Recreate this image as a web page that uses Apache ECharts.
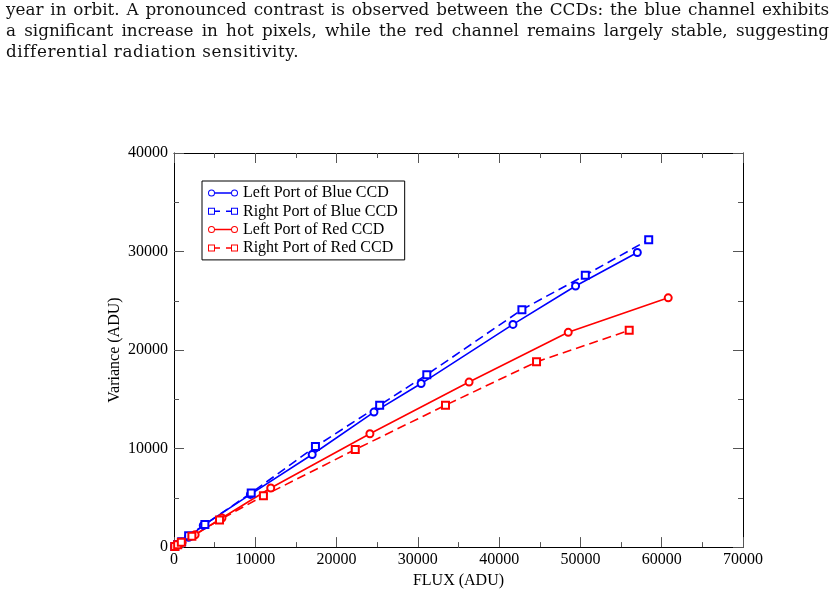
<!DOCTYPE html>
<html>
<head>
<meta charset="utf-8">
<script src="https://cdn.jsdelivr.net/npm/echarts@6/dist/echarts.min.js"></script>
<style>
  html, body { margin: 0; padding: 0; background: #fff; }
  #wrap { position: relative; width: 835px; height: 594px; overflow: hidden; }
  #chart { position: absolute; left: 0; top: 0; width: 835px; height: 594px; }
  #caption { position: absolute; left: 6px; top: -1px; width: 823px; z-index: 2;
    font-family: "DejaVu Serif", serif; font-size: 16.8px; line-height: 21px; color: #111; }
  #caption div { white-space: nowrap; }
</style>
</head>
<body>
<div id="wrap">
  <div id="chart"></div>
  <div id="caption">
    <div class="j">year in orbit. A pronounced contrast is observed between the CCDs: the blue channel exhibits</div>
    <div class="j">a significant increase in hot pixels, while the red channel remains largely stable, suggesting</div>
    <div style="letter-spacing:0.6px">differential radiation sensitivity.</div>
  </div>
</div>
<script>
// ---- data ----
const seriesNames = ['Left Port of Blue CCD', 'Right Port of Blue CCD', 'Left Port of Red CCD', 'Right Port of Red CCD'];

const blueLeftFlux = [100, 400, 900, 1800, 3600, 9400, 17000, 24600, 30400, 41700, 49400, 57000];
const blueLeftVar  = [60, 250, 500, 1000, 2200, 5350, 9400, 13700, 16600, 22600, 26500, 29900];

const blueRightFlux = [100, 450, 950, 1800, 3800, 9500, 17400, 25300, 31100, 42800, 50600, 58400];
const blueRightVar  = [70, 270, 540, 1150, 2300, 5500, 10200, 14400, 17500, 24100, 27600, 31200];

const redLeftFlux = [100, 450, 1000, 2600, 5900, 11900, 24100, 36300, 48500, 60800];
const redLeftVar  = [60, 230, 500, 1250, 2950, 6000, 11500, 16750, 21800, 25300];

const redRightFlux = [100, 450, 900, 2200, 5600, 11000, 22300, 33400, 44600, 56000];
const redRightVar  = [60, 230, 480, 1100, 2750, 5200, 9900, 14400, 18800, 22000];

const xTickLabels = ['0', '10000', '20000', '30000', '40000', '50000', '60000', '70000'];
const yTickLabels = ['0', '10000', '20000', '30000', '40000'];

// ---- caption justification ----
document.querySelectorAll('#caption .j').forEach(function (el) {
  const target = 823;
  const text = el.textContent;
  const spaces = (text.match(/ /g) || []).length;
  const span = document.createElement('span');
  span.textContent = text;
  el.textContent = '';
  el.appendChild(span);
  const w = span.getBoundingClientRect().width;
  el.style.wordSpacing = ((target - w) / spaces) + 'px';
});

function pairs(xs, ys) { return xs.map(function (x, i) { return [x, ys[i]]; }); }

const ringPath = 'path://M0,3.5 A3.5,3.5 0 1 1 7,3.5 A3.5,3.5 0 1 1 0,3.5 Z M1,3.5 A2.5,2.5 0 1 0 6,3.5 A2.5,2.5 0 1 0 1,3.5 Z ' +
  'M23,3.5 A3.5,3.5 0 1 1 30,3.5 A3.5,3.5 0 1 1 23,3.5 Z M24,3.5 A2.5,2.5 0 1 0 29,3.5 A2.5,2.5 0 1 0 24,3.5 Z ' +
  'M7,2.75 L23,2.75 L23,4.25 L7,4.25 Z';
const squarePath = 'path://M0,0 L7,0 L7,7 L0,7 Z M1,1 L1,6 L6,6 L6,1 Z ' +
  'M23,0 L30,0 L30,7 L23,7 Z M24,1 L24,6 L29,6 L29,1 Z ' +
  'M7,2.75 L12,2.75 L12,4.25 L7,4.25 Z M18,2.75 L23,2.75 L23,4.25 L18,4.25 Z';

const font = 'Liberation Serif';
const tickColor = '#555';

function xAxisDef(pos, showLabel) {
  return {
    type: 'value', position: pos, min: 0, max: 70000, interval: 10000,
    name: showLabel ? 'FLUX (ADU)' : '', nameLocation: 'middle', nameGap: 21,
    nameTextStyle: { fontFamily: font, fontSize: 16, color: '#000' },
    axisLine: { show: true, onZero: false, lineStyle: { color: '#000', width: 1 } },
    axisTick: { show: true, inside: true, length: 10, lineStyle: { color: tickColor } },
    minorTick: { show: true, splitNumber: 2, length: 5, lineStyle: { color: tickColor } },
    splitLine: { show: false },
    axisLabel: {
      show: showLabel, margin: 5, fontFamily: font, fontSize: 16, color: '#000',
      formatter: function (v) { return xTickLabels[Math.round(v / 10000)]; }
    }
  };
}
function yAxisDef(pos, showLabel) {
  return {
    type: 'value', position: pos, min: 0, max: 40000, interval: 10000,
    name: showLabel ? 'Variance (ADU)' : '', nameLocation: 'middle', nameGap: 51,
    nameMoveOverlap: false,
    nameTextStyle: { fontFamily: font, fontSize: 16, color: '#000' },
    axisLine: { show: true, onZero: false, lineStyle: { color: '#000', width: 1 } },
    axisTick: { show: true, inside: true, length: 10, lineStyle: { color: tickColor } },
    minorTick: { show: true, splitNumber: 2, length: 5, lineStyle: { color: tickColor } },
    splitLine: { show: false },
    axisLabel: {
      show: showLabel, margin: 6, fontFamily: font, fontSize: 16, color: '#000',
      formatter: function (v) { return yTickLabels[Math.round(v / 10000)]; }
    }
  };
}

function lineSeries(name, data, color, dashed, symbol) {
  return {
    name: name, type: 'line', data: data, xAxisIndex: 0, yAxisIndex: 0,
    symbol: symbol, symbolSize: 7, showSymbol: true,
    lineStyle: { color: color, width: 1.6, type: dashed ? [9, 5] : 'solid' },
    itemStyle: { color: color, borderColor: color, borderWidth: 1 },
    emphasis: { disabled: true },
    z: 3
  };
}

const chart = echarts.init(document.getElementById('chart'), null, { renderer: 'canvas' });
chart.setOption({
  animation: false,
  backgroundColor: '#fff',
  grid: { left: 174, right: 92, top: 153, bottom: 43, containLabel: false },
  xAxis: [xAxisDef('bottom', true), xAxisDef('top', false)],
  yAxis: [yAxisDef('left', true), yAxisDef('right', false)],
  legend: {
    orient: 'vertical', left: 202, top: 181,
    backgroundColor: '#fff', borderColor: '#000', borderWidth: 1,
    padding: [4, 7, 4, 6], itemGap: 2.3, itemWidth: 30, itemHeight: 7, itemTextGap: 5,
    textStyle: { fontFamily: font, fontSize: 16, color: '#000' },
    selectedMode: false,
    data: [
      { name: seriesNames[0], icon: ringPath, itemStyle: { color: '#0000ff', borderWidth: 0 } },
      { name: seriesNames[1], icon: squarePath, itemStyle: { color: '#0000ff', borderWidth: 0 } },
      { name: seriesNames[2], icon: ringPath, itemStyle: { color: '#ff0000', borderWidth: 0 } },
      { name: seriesNames[3], icon: squarePath, itemStyle: { color: '#ff0000', borderWidth: 0 } }
    ]
  },
  series: [
    lineSeries(seriesNames[0], pairs(blueLeftFlux, blueLeftVar), '#0000ff', false, 'emptyCircle'),
    lineSeries(seriesNames[1], pairs(blueRightFlux, blueRightVar), '#0000ff', true, 'emptyRect'),
    lineSeries(seriesNames[2], pairs(redLeftFlux, redLeftVar), '#ff0000', false, 'emptyCircle'),
    lineSeries(seriesNames[3], pairs(redRightFlux, redRightVar), '#ff0000', true, 'emptyRect')
  ]
});
</script>
</body>
</html>
